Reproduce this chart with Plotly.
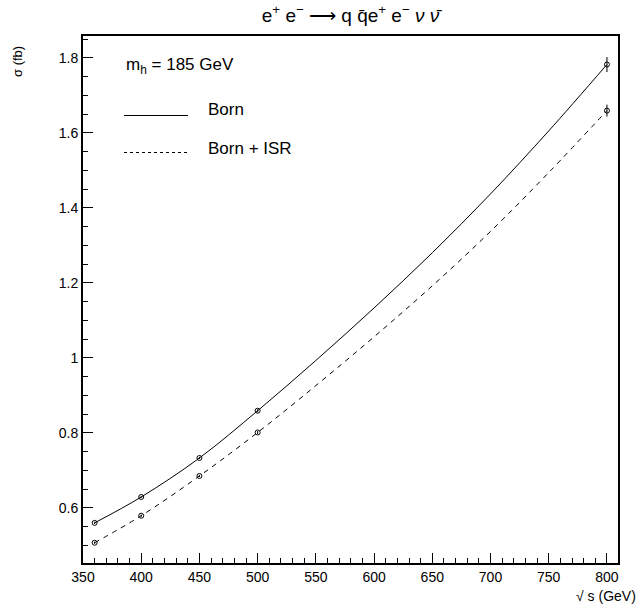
import plotly.graph_objects as go

# Computed points
sqrt_s = [360, 400, 450, 500, 800]
sigma_born = [0.560, 0.629, 0.733, 0.859, 1.782]
sigma_isr = [0.507, 0.579, 0.685, 0.801, 1.659]
err_born = [0.003, 0.003, 0.003, 0.004, 0.020]
err_isr = [0.003, 0.003, 0.003, 0.004, 0.016]

# Smooth curves
curve_x = [360, 400, 450, 500, 550, 600, 650, 700, 750, 800]
curve_born = [0.560, 0.629, 0.733, 0.859, 0.993, 1.133, 1.280, 1.437, 1.605, 1.782]
curve_isr = [0.507, 0.579, 0.685, 0.801, 0.926, 1.056, 1.192, 1.337, 1.494, 1.659]

x_ticks = [350, 400, 450, 500, 550, 600, 650, 700, 750, 800]
y_ticks = [0.6, 0.8, 1.0, 1.2, 1.4, 1.6, 1.8]
y_tick_text = ["0.6", "0.8", "1", "1.2", "1.4", "1.6", "1.8"]

FONT = "Liberation Sans, Arial, sans-serif"

fig = go.Figure()
fig.add_trace(go.Scatter(x=curve_x, y=curve_born, mode="lines",
                         line=dict(color="black", width=1, shape="spline"),
                         showlegend=False, hoverinfo="skip"))
fig.add_trace(go.Scatter(x=curve_x, y=curve_isr, mode="lines",
                         line=dict(color="black", width=1, shape="spline", dash="5px,5px"),
                         showlegend=False, hoverinfo="skip"))
fig.add_trace(go.Scatter(x=sqrt_s, y=sigma_born, mode="markers",
                         marker=dict(symbol="circle-open", size=5, color="black", line=dict(width=1)),
                         error_y=dict(type="data", array=err_born, color="black", thickness=1, width=0),
                         showlegend=False))
fig.add_trace(go.Scatter(x=sqrt_s, y=sigma_isr, mode="markers",
                         marker=dict(symbol="circle-open", size=5, color="black", line=dict(width=1)),
                         error_y=dict(type="data", array=err_isr, color="black", thickness=1, width=0),
                         showlegend=False))

L, R, T, B = 83, 24, 36, 46
W, H = 642, 609
pw, ph = W - L - R, H - T - B

def px(xp):
    return (xp - L) / pw

def py(yp):
    return (H - B - yp) / ph

# Legend-like decorations
fig.add_shape(type="line", xref="paper", yref="paper", x0=px(124), x1=px(188),
              y0=py(115.5), y1=py(115.5), line=dict(color="black", width=1))
fig.add_shape(type="line", xref="paper", yref="paper", x0=px(124), x1=px(188),
              y0=py(152.5), y1=py(152.5), line=dict(color="black", width=1, dash="3px,3px"))

annos = [
    dict(text="m<sub>h</sub> = 185 GeV", x=px(124), y=py(66), xanchor="left", yanchor="middle", size=17),
    dict(text="Born", x=px(206), y=py(110), xanchor="left", yanchor="middle", size=17),
    dict(text="Born + ISR", x=px(206), y=py(148), xanchor="left", yanchor="middle", size=17),
    dict(text="√ s (GeV)", x=px(638), y=py(596), xanchor="right", yanchor="middle", size=14),
]
for a in annos:
    fig.add_annotation(text=a["text"], x=a["x"], y=a["y"], xref="paper", yref="paper",
                       xanchor=a["xanchor"], yanchor=a["yanchor"], showarrow=False,
                       font=dict(family=FONT, size=a["size"], color="black"))
fig.add_annotation(text="σ (fb)", x=px(18), y=py(62), xref="paper", yref="paper",
                   xanchor="center", yanchor="middle", textangle=-90, showarrow=False,
                   font=dict(family=FONT, size=13, color="black"))

fig.update_layout(
    width=W, height=H,
    margin=dict(l=L, r=R, t=T, b=B),
    paper_bgcolor="white", plot_bgcolor="white",
    font=dict(family=FONT, color="black", size=14),
    title=dict(text="e<sup>+</sup> e<sup>−</sup> ⟶ q q̄e<sup>+</sup> e<sup>−</sup> <i>ν</i> <i>ν̄</i>",
               x=(L + pw / 2) / W, xanchor="center", y=1 - 15 / H, yanchor="middle",
               font=dict(family=FONT, size=19, color="black")),
    showlegend=False,
)
fig.update_xaxes(range=[350, 809.5], tickvals=x_ticks, ticks="inside", ticklen=10,
                 tickwidth=1, tickcolor="black", showgrid=False, zeroline=False,
                 showline=True, linecolor="black", linewidth=2, mirror=True,
                 minor=dict(dtick=10, tick0=350, ticks="inside", ticklen=5, tickcolor="black", tickwidth=1),
                 tickfont=dict(size=14))
fig.update_yaxes(range=[0.453, 1.858], tickvals=y_ticks, ticktext=y_tick_text, ticks="inside",
                 ticklen=10, tickwidth=1, tickcolor="black", showgrid=False, zeroline=False,
                 showline=True, linecolor="black", linewidth=2, mirror=True,
                 minor=dict(dtick=0.05, tick0=0.45, ticks="inside", ticklen=5, tickcolor="black", tickwidth=1),
                 tickfont=dict(size=14))

fig.write_html("out.html")
